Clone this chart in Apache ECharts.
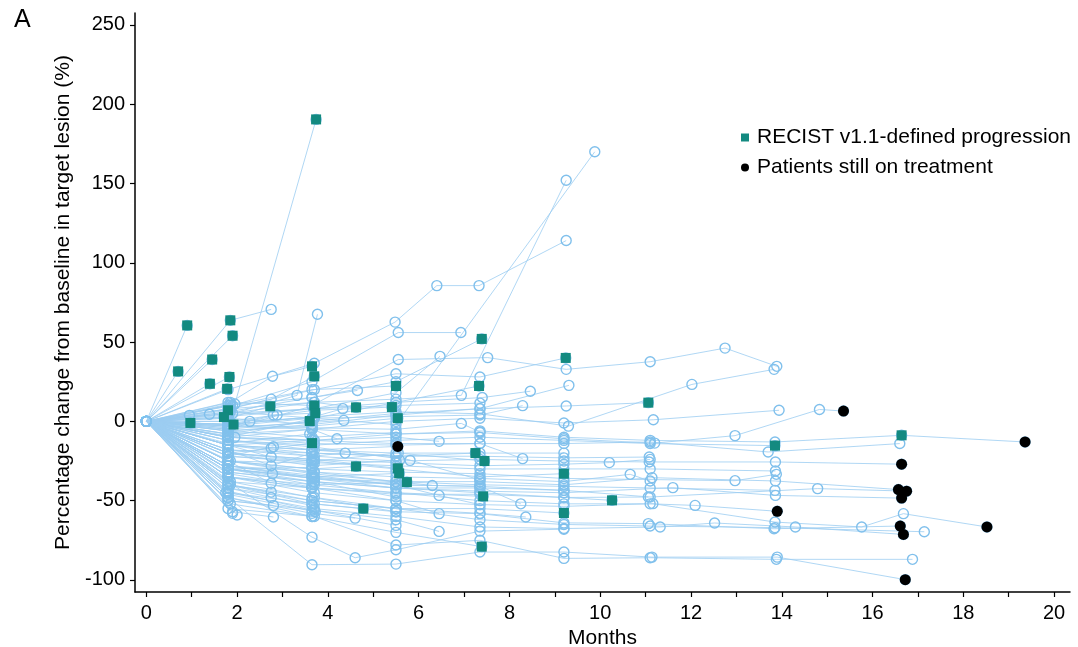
<!DOCTYPE html>
<html><head><meta charset="utf-8">
<script src="https://cdn.jsdelivr.net/npm/echarts@6/dist/echarts.min.js"></script>
<style>html,body{margin:0;padding:0;background:#fff}#c{width:1078px;height:647px}</style>
</head><body><div id="c"></div>
<script>
// ---- data ----
const xTickValues = [0,1,2,3,4,5,6,7,8,9,10,11,12,13,14,15,16,17,18,19,20];
const xTickLabels = [0,2,4,6,8,10,12,14,16,18,20];
const yTickLabels = [-100,-50,0,50,100,150,200,250];
const legendNames = ['RECIST v1.1-defined progression','Patients still on treatment'];
// each patient: visits [months, % change, flag]; 'P' = progression, 'B' = still on treatment
const patients = [
 [[0.9,60.5,'P']],
 [[0.7,31.5,'P']],
 [[1.85,63.7,'P'],[2.75,70.6]],
 [[1.9,54,'P']],
 [[1.45,39,'P']],
 [[1.4,23.7,'P']],
 [[1.83,28,'P']],
 [[1.78,20.5,'P']],
 [[0.97,-1,'P']],
 [[1.8,7,'P']],
 [[1.71,2.7,'P']],
 [[1.92,-2,'P']],
 [[1.95,11],[3.74,190.4,'P']],
 [[1.85,12],[2.78,28.4],[3.65,34.7,'P']],
 [[1.9,5],[3.32,16.4],[3.77,67.5]],
 [[1.8,2],[2.73,9.5,'P']],
 [[1.85,8],[2.75,14],[3.7,28.4,'P']],
 [[1.8,-5],[3.7,10,'P']],
 [[1.85,-2],[2.8,4],[3.72,5.2,'P']],
 [[1.8,-8],[3.6,0.2,'P']],
 [[1.8,-20],[2.75,-17],[3.65,-13.7,'P']],
 [[1.8,5],[3.7,12],[4.62,8.8,'P']],
 [[1.8,-25],[3.65,-30],[4.62,-28.4,'P']],
 [[1.8,-45],[3.7,-52],[4.78,-55,'P']],
 [[1.85,10],[3.65,20],[5.5,22.3,'P']],
 [[1.8,0],[3.7,7],[5.41,9,'P']],
 [[1.8,-6],[3.65,-3],[5.54,2,'P']],
 [[1.8,-20],[3.7,-24],[5.54,-29.6,'P']],
 [[1.8,-28],[3.65,-35],[5.57,-32.8,'P']],
 [[1.8,-35],[3.7,-40],[5.74,-38.3,'P']],
 [[1.8,-12],[3.7,-18],[5.54,-15.8,'B']],
 [[1.8,6],[3.65,15],[5.5,25],[7.39,52,'P']],
 [[1.8,-10],[3.7,2],[5.5,12],[7.33,22.3,'P']],
 [[1.8,-15],[3.65,-18],[5.5,-22],[7.25,-20,'P']],
 [[1.8,-22],[3.7,-25],[5.55,-20],[7.45,-25,'P']],
 [[1.8,-38],[3.65,-42],[5.5,-45],[7.42,-47.3,'P']],
 [[1.8,-48],[3.65,-60],[5.5,-70],[7.39,-79,'P']],
 [[1.8,8],[3.7,20],[5.5,30],[7.35,28],[9.24,40,'P']],
 [[1.8,-20],[3.65,-25],[5.5,-30],[7.35,-35],[9.2,-33,'P']],
 [[1.8,-40],[3.7,-48],[5.5,-55],[7.35,-55],[9.2,-57.8,'P']],
 [[1.8,-32],[3.65,-38],[5.5,-42],[7.35,-45],[9.2,-48],[10.26,-49.8,'P']],
 [[1.8,-5],[3.65,0],[5.5,5],[7.35,8],[9.25,9.7],[11.06,11.8,'P']],
 [[1.8,-12],[3.7,-15],[5.5,-12],[7.35,-10],[9.2,-12],[11.1,-14],[13.85,-15.3,'P']],
 [[1.8,-3],[3.65,-5],[5.5,-8],[7.35,-6],[9.2,-10],[11.1,-12],[13.85,-13],[16.64,-8.8,'P'],[19.36,-13,'B']],
 [[1.85,8],[3.7,12],[5.5,14],[6.94,16.4],[9.25,152]],
 [[1.8,-3],[3.65,2],[5.5,-2],[9.88,170]],
 [[1.8,20],[3.7,36.6],[5.48,62.6],[6.4,85.6],[7.33,85.6],[9.25,114]],
 [[1.9,10],[3.65,25],[5.55,56],[6.93,56]],
 [[1.8,4],[3.7,8],[5.5,18],[6.47,41]],
 [[1.8,12],[3.65,10],[5.55,39],[7.52,40.2],[9.25,32.8],[11.1,37.6],[12.75,46.2],[13.89,34.7]],
 [[1.8,-2],[3.7,3],[5.5,6],[7.35,4.8],[9.3,-3],[12.02,23.3],[13.83,32.8]],
 [[1.8,-10],[3.65,-5],[5.5,0],[7.35,2],[9.2,-1],[11.17,1],[13.94,7]],
 [[1.8,-15],[3.7,-12],[5.5,-8],[7.35,-7],[9.2,-11],[11.2,-13.7],[12.97,-9],[14.83,7.5],[15.36,6.5,'B']],
 [[1.8,-30],[3.65,-40],[5.5,-45],[7.35,-50],[9.2,-52],[11.1,-52],[12.09,-53],[13.9,-56.7,'B']],
 [[1.8,-18],[3.7,-22],[5.5,-25],[7.35,-24],[9.2,-25],[11.08,-25.6],[13.86,-25.6],[16.64,-27,'B']],
 [[1.8,-25],[3.65,-33],[5.5,-38],[7.35,-38],[9.2,-40],[11.14,-35.5],[13.86,-37.6],[16.57,-43,'B']],
 [[1.8,-30],[3.7,-35],[5.5,-40],[7.35,-41],[9.2,-43.5],[11.1,-47.7],[14.79,-42.4],[16.75,-44,'B']],
 [[1.8,-28],[3.65,-36],[5.5,-42],[7.35,-44],[9.2,-45],[11.6,-41.8],[13.86,-46.7],[16.64,-48.4,'B']],
 [[1.8,-35],[3.7,-45],[5.5,-50],[7.35,-52.5],[9.2,-53.6],[11.16,-51.9],[13.85,-63.5],[15.76,-66.6],[16.68,-58.2],[18.52,-66.6,'B']],
 [[1.8,-40],[3.65,-52],[5.5,-57],[7.35,-58.2],[9.2,-64],[11.06,-64.5],[13.83,-67.7],[16.61,-66,'B']],
 [[1.8,-45],[3.7,-55],[5.5,-60],[7.35,-66.6],[9.2,-67.6],[11.32,-66.6],[12.52,-64.1],[14.3,-66.6],[16.68,-71.3,'B']],
 [[1.8,-48],[3.65,-90.4],[5.5,-90],[7.35,-82.4],[9.2,-82.4],[11.14,-85.6],[13.9,-85.6],[16.72,-99.8,'B']],
 [[1.8,-55],[3.7,-60],[5.5,-78],[7.35,-75],[9.2,-86.4],[11.1,-86],[13.88,-87],[16.88,-87]],
 [[1.8,-42],[3.65,-50],[5.5,-55],[7.35,-62],[9.2,-65],[11.1,-66],[13.85,-67],[17.14,-69.6]],
 [[1.8,-10],[3.7,-14],[5.5,-15],[7.35,-14],[9.2,-14],[11.1,-13],[13.7,-19.3],[16.6,-14]],
 [[1.8,-38],[3.65,-73],[4.6,-86],[5.5,-81],[7.35,-69.2],[9.2,-68]],
 [[1.85,11]],
 [[1.8,-28]],
 [[1.75,-45]],
 [[1.9,-58]],
 [[2.0,-59]],
 [[1.8,-35]],
 [[1.95,-10]],
 [[1.39,4.5]],
 [[0.95,3.8]],
 [[1.8,-4],[2.28,0]],
 [[1.8,-3],[2.88,4]],
 [[1.8,-15],[2.75,-22.5]],
 [[1.8,-30],[2.78,-33]],
 [[1.85,-40],[2.75,-44.6]],
 [[1.8,-50],[2.8,-53]],
 [[1.9,-57],[2.8,-60.3]],
 [[1.8,-25],[2.75,-39]],
 [[1.8,-22],[2.8,-16]],
 [[1.8,-10],[3.65,-12]],
 [[1.8,-18],[2.75,-28],[3.65,-20]],
 [[1.85,-25],[3.7,-26.5]],
 [[1.8,-30],[3.65,-29]],
 [[1.8,-33],[3.65,-41.4]],
 [[1.8,-42],[2.75,-48],[3.65,-53]],
 [[1.8,-46],[3.72,-57]],
 [[1.85,-52],[3.65,-60]],
 [[1.8,2],[3.65,-2]],
 [[1.8,-14],[3.6,-8]],
 [[1.85,6],[3.7,2]],
 [[1.8,10],[3.65,15],[4.65,19.5]],
 [[1.8,-2],[3.7,3],[4.33,8]],
 [[1.8,-4],[4.35,0.6]],
 [[1.8,-8],[3.65,-5],[4.2,-11]],
 [[1.8,-15],[3.65,-22],[4.38,-20]],
 [[1.8,-48],[3.65,-58],[4.6,-61]],
 [[1.8,-6],[3.65,-10],[5.5,-7]],
 [[1.8,-20],[3.65,-28],[5.58,-24.6]],
 [[1.8,-30],[3.7,-38],[5.5,-47.7]],
 [[1.85,-38],[3.65,-48],[5.5,-57]],
 [[1.8,-50],[3.7,-56],[5.5,-65.6]],
 [[1.8,-12],[3.65,-16],[5.81,-24.6]],
 [[1.8,-8],[3.65,-12],[5.5,-10],[6.45,-12.6]],
 [[1.8,-25],[3.7,-32],[5.5,-38],[6.3,-40.4]],
 [[1.8,-35],[3.65,-42],[5.5,-50],[6.45,-58.2]],
 [[1.8,-44],[3.65,-56],[5.5,-62],[6.45,-69.4]],
 [[1.8,5],[3.7,8],[5.5,10],[7.35,11.5]],
 [[1.8,-18],[3.65,-20],[5.5,-22],[7.35,-36.8]],
 [[1.8,-28],[3.65,-34],[5.5,-40],[6.45,-46.7],[7.35,-52.5]],
 [[1.8,-2],[3.65,-4],[5.5,-5],[6.94,-1.3],[7.35,-6.7]],
 [[1.8,-10],[3.65,-12],[5.5,-14],[7.35,-14],[8.29,-23.5]],
 [[1.8,-30],[3.7,-36],[5.5,-40],[7.35,-41],[8.25,-52]],
 [[1.8,-40],[3.65,-50],[5.5,-55],[7.35,-58],[8.36,-60.3]],
 [[1.8,0],[3.65,2],[5.5,3],[7.35,4],[8.29,9.9]],
 [[1.8,3],[3.7,8],[5.5,12],[7.4,15],[8.46,19]],
 [[1.8,-6],[3.65,-2],[5.5,4],[7.35,8],[9.31,22.7]],
 [[1.8,-15],[3.65,-18],[5.5,-20],[7.35,-20],[9.2,-20]],
 [[1.8,-32],[3.7,-38],[5.5,-42],[7.35,-42],[9.2,-43.5]],
 [[1.8,-15],[3.65,-20],[5.5,-22],[7.35,-22],[9.2,-23],[11.08,-22.5]],
 [[1.8,-35],[3.65,-42],[5.5,-46],[7.35,-46],[9.2,-48],[11.06,-47.7]],
 [[1.8,-28],[3.7,-32],[5.5,-35],[7.35,-36],[9.2,-38],[10.66,-33.4],[11.1,-37.6]],
 [[1.8,-20],[3.65,-24],[5.5,-26],[7.35,-28],[9.2,-27],[10.2,-26],[11.1,-24]],
 [[1.8,-22],[3.65,-26],[5.5,-28],[7.35,-30],[9.2,-30],[11.1,-30],[13.86,-31.3]],
 [[1.8,-30],[3.7,-36],[5.5,-38],[7.35,-40],[9.2,-41],[11.1,-42],[13.85,-43.5]],
 [[1.8,-25],[3.65,-30],[5.5,-32],[7.35,-33],[9.2,-36],[12.97,-37.4],[13.88,-33.4]]
];

// ---- build ----
const BLUE = '#80c0ec', LINE = '#9ccdf1', TEAL = '#138a80';
const series = [];
const prog = [], onTx = [];
patients.forEach(p => {
  const d = [[0,0]].concat(p.map(v => [v[0], v[1]]));
  p.forEach(v => { if (v[2]==='P') prog.push([v[0],v[1]]); if (v[2]==='B') onTx.push([v[0],v[1]]); });
  series.push({
    type:'line', data:d, silent:true, z:2,
    symbol:'circle', symbolSize:10,
    itemStyle:{color:'rgba(255,255,255,0)', borderColor:BLUE, borderWidth:1.4},
    lineStyle:{color:LINE, width:0.8},
    emphasis:{disabled:true}
  });
});
series.push({name:legendNames[0], type:'scatter', data:prog, symbol:'rect', symbolSize:10,
  itemStyle:{color:TEAL, opacity:1}, z:5, silent:true});
series.push({name:legendNames[1], type:'scatter', data:onTx, symbol:'circle', symbolSize:11,
  itemStyle:{color:'#000', opacity:1}, z:6, silent:true});

const FONT = 'Liberation Sans, Arial, sans-serif';
const chart = echarts.init(document.getElementById('c'), null, {renderer:'canvas'});
chart.setOption({
  animation:false,
  backgroundColor:'#fff',
  title:{text:'A', left:9, top:3, textStyle:{fontFamily:FONT, fontSize:25, fontWeight:'normal', color:'#000'}},
  legend:{data:legendNames, orient:'vertical', left:736, top:122, itemWidth:8, itemHeight:8, itemGap:9,
    textStyle:{fontFamily:FONT, fontSize:21, color:'#000', padding:[0,0,0,3]}, selectedMode:false},
  grid:{left:135, right:8, top:13, bottom:55, containLabel:false, outerBoundsMode:'none'},
  xAxis:{type:'value', min:-0.25, max:20.35,
    name:'Months', nameLocation:'middle', nameGap:34,
    nameTextStyle:{fontFamily:FONT, fontSize:21, color:'#000'},
    axisLine:{show:true, onZero:false, lineStyle:{color:'#000', width:1.5}},
    axisTick:{show:true, length:5, customValues:xTickValues, lineStyle:{color:'#000', width:1.2}},
    axisLabel:{customValues:xTickLabels, fontFamily:FONT, fontSize:20, color:'#000', margin:11},
    splitLine:{show:false}},
  yAxis:{type:'value', min:-107.6, max:257.5,
    name:'Percentage change from baseline in target lesion (%)', nameLocation:'middle', nameGap:53,
    nameTextStyle:{fontFamily:FONT, fontSize:21, color:'#000'},
    axisLine:{show:true, onZero:false, lineStyle:{color:'#000', width:1.5}},
    axisTick:{show:true, length:5, customValues:yTickLabels, lineStyle:{color:'#000', width:1.2}},
    axisLabel:{customValues:yTickLabels, fontFamily:FONT, fontSize:20, color:'#000', margin:10},
    splitLine:{show:false}},
  series:series
});
</script></body></html>
